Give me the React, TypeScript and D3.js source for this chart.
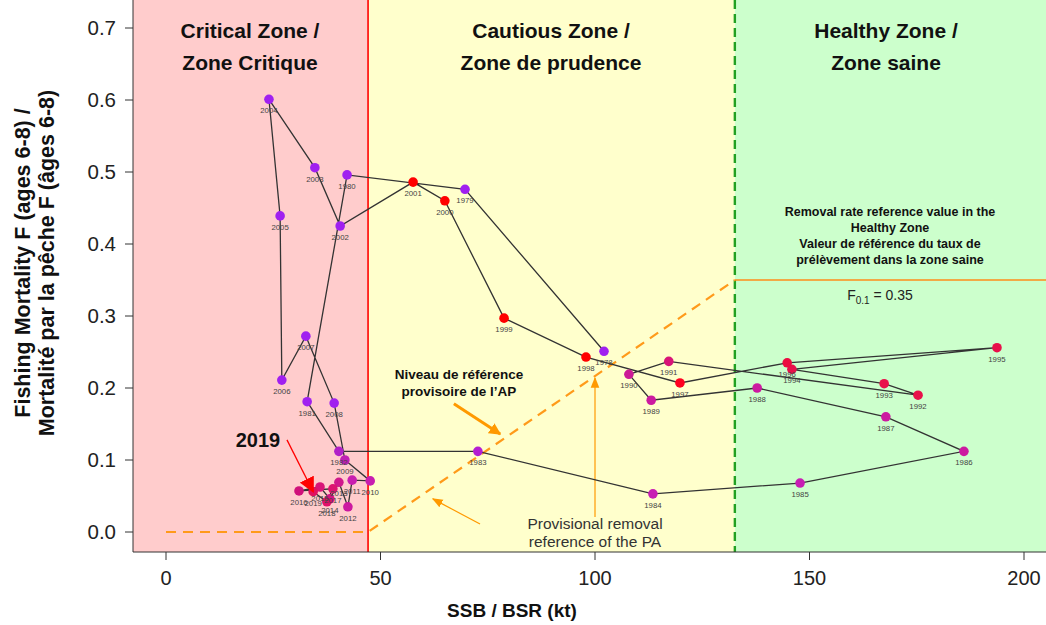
import React from "react";
import * as d3 from "d3";

const W = 1046;
const H = 625;

// ---- data ----
const years = [
  1978, 1979, 1980, 1981, 1982, 1983, 1984, 1985, 1986, 1987, 1988, 1989, 1990, 1991,
  1992, 1993, 1994, 1995, 1996, 1997, 1998, 1999, 2000, 2001, 2002, 2003, 2004, 2005,
  2006, 2007, 2008, 2009, 2010, 2011, 2012, 2013, 2014, 2015, 2016, 2017, 2018, 2019,
];
const ssb = [
  102.1, 69.7, 42.2, 32.9, 40.3, 72.7, 113.5, 147.8, 186.0, 167.8, 137.8, 113.1, 107.9, 117.2,
  175.3, 167.4, 145.9, 193.7, 144.8, 119.8, 97.9, 78.8, 65.0, 57.6, 40.6, 34.7, 24.0, 26.6,
  27.0, 32.6, 39.2, 41.7, 47.6, 43.4, 42.4, 40.3, 38.2, 35.9, 31.0, 38.9, 37.5, 34.3,
];
const fishingF = [
  0.251, 0.476, 0.496, 0.181, 0.112, 0.112, 0.053, 0.068, 0.112, 0.16, 0.2, 0.183, 0.219, 0.237,
  0.19, 0.206, 0.226, 0.256, 0.235, 0.207, 0.243, 0.297, 0.46, 0.486, 0.425, 0.506, 0.601, 0.439,
  0.211, 0.272, 0.179, 0.1, 0.071, 0.072, 0.035, 0.069, 0.046, 0.0625, 0.057, 0.06, 0.042, 0.056,
];
const pointColors = [
  "#a020f0", "#a020f0", "#a020f0", "#a020f0", "#b020c8", "#b41ed2", "#c81eb4", "#c81eb4",
  "#cc1aa0", "#cc1aa0", "#cc1aa0", "#cc1aa0", "#cc1a96", "#d81478", "#e8104a", "#e8104a",
  "#e8104a", "#e8104a", "#ec0c40", "#ff0020", "#ff0000", "#ff0000", "#ff0000", "#ff0000",
  "#a020f0", "#a020f0", "#a020f0", "#a020f0", "#a020f0", "#a020f0", "#a020f0", "#c020b4",
  "#c81eb0", "#c81eb0", "#cc18a0", "#d0188c", "#d41484", "#d81478", "#d0107a", "#dc1470",
  "#e0106a", "#e01060",
];
const xTicks = [0, 50, 100, 150, 200];
const yTicks = [0, 0.1, 0.2, 0.3, 0.4, 0.5, 0.6, 0.7];

const lrp = 47.1;
const usr = 132.6;
const f01 = 0.35;

const zoneTitles = [
  { lines: ["Critical Zone /", "Zone Critique"], cx: 250 },
  { lines: ["Cautious Zone /", "Zone de prudence"], cx: 551 },
  { lines: ["Healthy Zone /", "Zone saine"], cx: 886 },
];
const removalText = [
  "Removal rate reference value in the",
  "Healthy Zone",
  "Valeur de référence du taux de",
  "prélèvement dans la zone saine",
];

const FONT = "'Liberation Sans', Arial, Helvetica, sans-serif";

export default function App() {
  const x = d3.scaleLinear().domain([0, 200]).range([166, 1024]);
  const y = d3.scaleLinear().domain([0, 0.7]).range([532, 28]);
  const left = 133;
  const right = W;
  const top = 0;
  const bottom = 552;

  const pts = years.map((yr, i) => ({ yr, s: ssb[i], f: fishingF[i], c: pointColors[i] }));
  const path = d3
    .line<{ s: number; f: number }>()
    .x((d) => x(d.s))
    .y((d) => y(d.f))(pts);

  const refPath = d3
    .line<[number, number]>()
    .x((d) => x(d[0]))
    .y((d) => y(d[1]))([
    [0, 0],
    [lrp, 0],
    [usr, f01],
  ]);

  return (
    <svg
      width={W}
      height={H}
      style={{ position: "absolute", left: 0, top: 0, background: "#fff" }}
      fontFamily={FONT}
    >
      <defs>
        <marker id="arrOrange" viewBox="0 0 10 10" refX="9" refY="5" markerWidth="4" markerHeight="4" orient="auto">
          <path d="M0,0 L10,5 L0,10 z" fill="#ff9900" />
        </marker>
        <marker id="arrOrangeThin" viewBox="0 0 10 10" refX="9" refY="5" markerWidth="9" markerHeight="9" orient="auto">
          <path d="M0,1 L10,5 L0,9 z" fill="#ff9900" />
        </marker>
        <marker id="arrRed" viewBox="0 0 10 10" refX="9" refY="5" markerWidth="12" markerHeight="12" orient="auto">
          <path d="M0,0 L10,5 L0,10 z" fill="#ff0000" />
        </marker>
      </defs>

      {/* zones */}
      <rect x={left} y={top} width={x(lrp) - left} height={bottom - top} fill="#ffcccc" />
      <rect x={x(lrp)} y={top} width={x(usr) - x(lrp)} height={bottom - top} fill="#ffffcc" />
      <rect x={x(usr)} y={top} width={right - x(usr)} height={bottom - top} fill="#ccffcc" />

      {/* boundaries */}
      <line x1={x(lrp)} x2={x(lrp)} y1={top} y2={bottom} stroke="#ff0000" strokeWidth={1.6} />
      <line x1={x(usr)} x2={x(usr)} y1={top} y2={bottom} stroke="#22a022" strokeWidth={2.4} strokeDasharray="9,5" />
      <line x1={x(usr)} x2={right} y1={y(f01)} y2={y(f01)} stroke="#ff8c1a" strokeWidth={1.6} />
      <path d={refPath || ""} fill="none" stroke="#ff9a1a" strokeWidth={2.2} strokeDasharray="10,7" />

      {/* axes */}
      <line x1={left} x2={right} y1={bottom} y2={bottom} stroke="#333" strokeWidth={1} />
      <line x1={left} x2={left} y1={top} y2={bottom} stroke="#333" strokeWidth={1} />
      {xTicks.map((t) => (
        <g key={"xt" + t}>
          <line x1={x(t)} x2={x(t)} y1={bottom} y2={bottom + 8} stroke="#333" />
          <text x={x(t)} y={bottom + 33} textAnchor="middle" fontSize={20} fill="#222">
            {t}
          </text>
        </g>
      ))}
      {yTicks.map((t) => (
        <g key={"yt" + t}>
          <line x1={left - 8} x2={left} y1={y(t)} y2={y(t)} stroke="#333" />
          <text x={116} y={y(t) + 7} textAnchor="end" fontSize={20.5} fill="#222">
            {d3.format(".1f")(t)}
          </text>
        </g>
      ))}

      {/* axis titles */}
      <text x={512} y={617} textAnchor="middle" fontSize={19} fontWeight="bold" fill="#111">
        SSB / BSR (kt)
      </text>
      <g transform="translate(30,263) rotate(-90)">
        <text x={0} y={0} textAnchor="middle" fontSize={21.5} fontWeight="bold" fill="#111">
          Fishing Mortality F (ages 6-8) /
        </text>
        <text x={0} y={24} textAnchor="middle" fontSize={21.5} fontWeight="bold" fill="#111">
          Mortalité par la pêche F (âges 6-8)
        </text>
      </g>

      {/* zone titles */}
      {zoneTitles.map((z) =>
        z.lines.map((l, i) => (
          <text key={l} x={z.cx} y={38 + i * 32} textAnchor="middle" fontSize={21} fontWeight="bold" fill="#111">
            {l}
          </text>
        ))
      )}

      {/* removal reference text */}
      {removalText.map((l, i) => (
        <text key={l} x={890} y={216 + i * 16} textAnchor="middle" fontSize={12.5} fontWeight="bold" fill="#111">
          {l}
        </text>
      ))}
      <text x={880} y={300} textAnchor="middle" fontSize={14} fill="#222">
        F<tspan fontSize={10} dy={4}>0.1</tspan>
        <tspan dy={-4}> = 0.35</tspan>
      </text>

      {/* PA annotations */}
      <text x={459} y={379} textAnchor="middle" fontSize={13.5} fontWeight="bold" fill="#111">
        Niveau de référence
      </text>
      <text x={459} y={396} textAnchor="middle" fontSize={13.5} fontWeight="bold" fill="#111">
        provisoire de l’AP
      </text>
      <line
        x1={x(67.1)} y1={y(0.178)} x2={x(77.9)} y2={y(0.136)}
        stroke="#ff9900" strokeWidth={3} markerEnd="url(#arrOrange)"
      />
      <line
        x1={x(73.2)} y1={y(0.011)} x2={x(62.2)} y2={y(0.046)}
        stroke="#ff9900" strokeWidth={1.2} markerEnd="url(#arrOrangeThin)"
      />
      <line
        x1={x(100)} y1={y(0.021)} x2={x(100)} y2={y(0.214)}
        stroke="#ff9900" strokeWidth={1.2} markerEnd="url(#arrOrangeThin)"
      />
      <text x={595} y={529} textAnchor="middle" fontSize={15.5} fill="#333">
        Provisional removal
      </text>
      <text x={595} y={547} textAnchor="middle" fontSize={15.5} fill="#333">
        reference of the PA
      </text>

      {/* trajectory */}
      <path d={path || ""} fill="none" stroke="#333" strokeWidth={1.3} />
      {pts.map((p) => (
        <g key={p.yr}>
          <circle cx={x(p.s)} cy={y(p.f)} r={4.8} fill={p.c} />
        </g>
      ))}
      {pts.map((p) => (
        <text key={"l" + p.yr} x={x(p.s)} y={y(p.f) + 14} textAnchor="middle" fontSize={7.8} fill="#444">
          {p.yr}
        </text>
      ))}

      {/* 2019 callout */}
      <text x={258} y={447} textAnchor="middle" fontSize={20} fontWeight="bold" fill="#111">
        2019
      </text>
      <line
        x1={x(28.2)} y1={y(0.128)} x2={x(ssb[ssb.length - 1])} y2={y(fishingF[fishingF.length - 1])}
        stroke="#ff0000" strokeWidth={1.3} markerEnd="url(#arrRed)"
      />
    </svg>
  );
}
